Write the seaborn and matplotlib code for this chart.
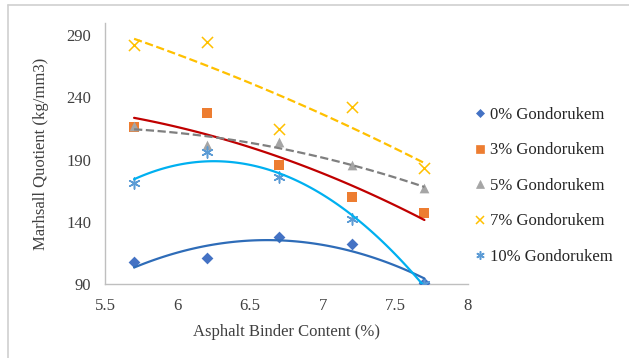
import numpy as np
import pandas as pd
import matplotlib
matplotlib.use("Agg")
import matplotlib.pyplot as plt
from matplotlib.lines import Line2D
import seaborn as sns

# binder content (%) and Marshall quotient per gondorukem dose
binder = [5.7, 6.2, 6.7, 7.2, 7.7]
mq_0 = [107.5, 111, 128, 122, 91]
mq_3 = [216, 227.5, 186, 160, 147]
mq_5 = [217, 202, 204, 186, 167]
mq_7 = [282, 285, 215, 232, 183.5]
mq_10 = [171, 196, 176, 142, 90]

labels = ["0% Gondorukem", "3% Gondorukem", "5% Gondorukem", "7% Gondorukem", "10% Gondorukem"]
series = [mq_0, mq_3, mq_5, mq_7, mq_10]

# marker style, marker colour, trend colour, trend linestyle, marker size
styles = [
    ("D", "#4472C4", "#2E6CB8", "-", 6),
    ("s", "#ED7D31", "#C00000", "-", 7),
    ("^", "#A5A5A5", "#7F7F7F", "--", 7),
    ("x", "#FFC000", "#FFC000", "--", 8),
    ((6, 2, 0), "#5B9BD5", "#00B0F0", "-", 8),
]

sns.set_theme(style="white")
plt.rcParams["font.family"] = ["Liberation Serif", "DejaVu Serif"]

fig = plt.figure(figsize=(6.29, 3.58), dpi=100)
ax = fig.add_axes([0.167, 0.207, 0.577, 0.729])

rows = []
for lab, vals in zip(labels, series):
    for x, y in zip(binder, vals):
        rows.append({"binder": x, "mq": y, "mix": lab})
df = pd.DataFrame(rows)

handles = []
for lab, (mk, mc, lc, ls, ms) in zip(labels, styles):
    sub = df[df["mix"] == lab]
    lw_m = 1.1 if mk == "x" or isinstance(mk, tuple) else 0
    ax.scatter(sub["binder"], sub["mq"], marker=mk, s=ms ** 2,
               color=mc, linewidths=lw_m, zorder=3)
    sns.regplot(data=sub, x="binder", y="mq", order=2, ci=None, scatter=False,
                ax=ax, line_kws={"color": lc, "linestyle": ls, "linewidth": 1.6, "zorder": 4})
    handles.append(Line2D([], [], linestyle="none", marker=mk, color=mc,
                          markeredgewidth=lw_m if lw_m else 0.5,
                          markersize=ms * 0.75, label=lab))

ax.set_xlim(5.5, 8)
ax.set_ylim(90, 300)
ax.set_xticks([5.5, 6, 6.5, 7, 7.5, 8])
ax.set_xticklabels(["5.5", "6", "6.5", "7", "7.5", "8"])
ax.set_yticks([90, 140, 190, 240, 290])
ax.tick_params(axis="both", length=0, labelsize=12, colors="#404040", pad=10)
for side in ["top", "right"]:
    ax.spines[side].set_visible(False)
for side in ["left", "bottom"]:
    ax.spines[side].set_color("#BFBFBF")
    ax.spines[side].set_linewidth(1.0)

ax.set_xlabel("Asphalt Binder Content (%)", fontsize=12, color="#404040", labelpad=7)
ax.set_ylabel("Marhsall Quotient (kg/mm3)", fontsize=12, color="#404040", labelpad=12)

fig.legend(handles=handles, loc="upper left", bbox_to_anchor=(0.745, 0.72),
           frameon=False, fontsize=12, labelspacing=1.17, handlelength=0.6,
           handletextpad=0.3, borderaxespad=0)

# light frame lines on the top and left edges of the picture
fig.add_artist(Line2D([0.013, 1.0], [0.986, 0.986], color="#D0D0D0", linewidth=1.2))
fig.add_artist(Line2D([0.013, 0.013], [0.0, 0.986], color="#D0D0D0", linewidth=1.2))

fig.savefig("out.png", dpi=100)
